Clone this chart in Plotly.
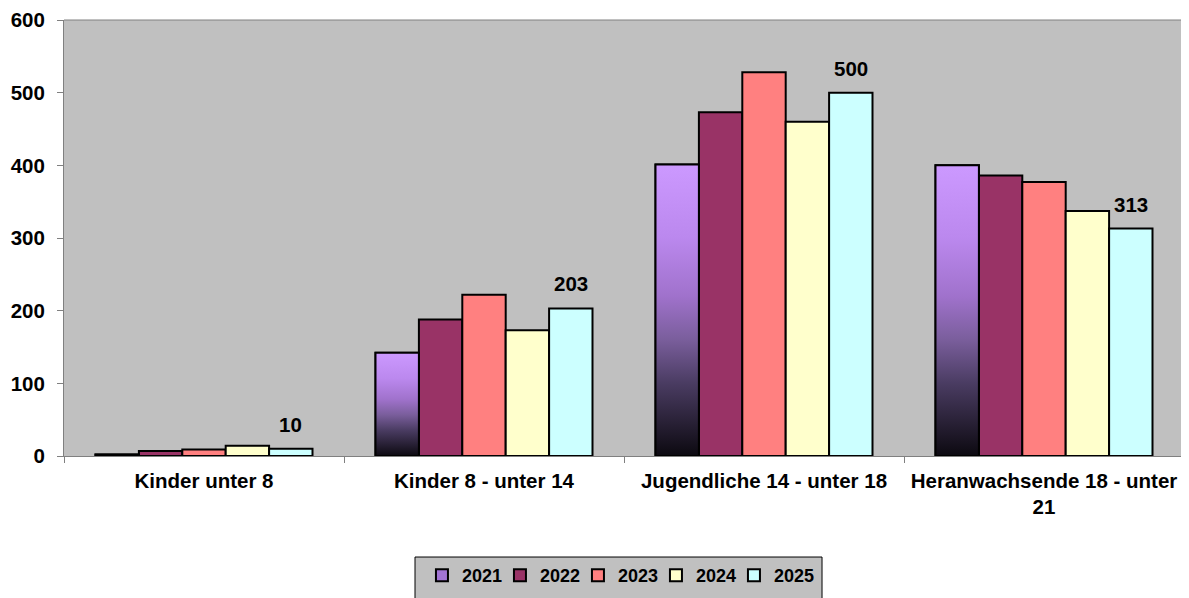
import plotly.graph_objects as go

categories = ["Kinder unter 8", "Kinder 8 - unter 14", "Jugendliche 14 - unter 18", "Heranwachsende 18 - unter<br>21"]
years = ["2021", "2022", "2023", "2024", "2025"]
v2021 = [2, 142, 401, 400]
v2022 = [7, 188, 473, 386]
v2023 = [9, 222, 528, 377]
v2024 = [14, 173, 460, 337]
v2025 = [10, 203, 500, 313]
series = [v2021, v2022, v2023, v2024, v2025]
colors = ["#A274D4", "#993366", "#FF8080", "#FFFFCC", "#CCFFFF"]
label_series_index = 4

FONT = "Liberation Sans, Arial, sans-serif"
FS = 20.5
group_w = 0.775
bar_w = group_w / len(years)

fig = go.Figure()
for k, (yr, vals, col) in enumerate(zip(years, series, colors)):
    off = -group_w / 2 + k * bar_w
    fig.add_trace(go.Bar(
        name=yr, x=categories, y=vals, width=bar_w, offset=off,
        marker=dict(color=col, line=dict(color="black", width=2)),
        hoverinfo="x+y+name",
    ))

# invisible spacer entry so the last legend label is not clipped
fig.add_trace(go.Bar(name=" ", x=[None], y=[None], showlegend=True, hoverinfo="skip",
                     marker=dict(color="rgba(0,0,0,0)", line=dict(width=0))))

# gradient overlay for 2021 bars (black at bottom -> light purple at top)
grad = [[0, "#0c0910"], [0.25, "#4a3c62"], [0.4, "#7a5e9c"], [0.55, "#a072cc"], [0.75, "#bb88ee"], [1, "#cc99ff"]]
off0 = -group_w / 2
for i, v in enumerate(v2021):
    x0 = i + off0
    x1 = x0 + bar_w
    fig.add_trace(go.Scatter(
        x=[x0, x1, x1, x0, x0], y=[0, 0, v, v, 0], xaxis="x2", yaxis="y",
        mode="lines", fill="toself",
        fillgradient=dict(type="vertical", colorscale=grad),
        line=dict(color="black", width=2),
        showlegend=False, hoverinfo="skip",
    ))

# value labels above the 2025 bars
annotations = []
lab_vals = series[label_series_index]
lab_off = -group_w / 2 + label_series_index * bar_w + bar_w / 2
for i, v in enumerate(lab_vals):
    annotations.append(dict(
        x=i + lab_off, y=v, xref="x2", yref="y", text=str(v), showarrow=False,
        yanchor="bottom", xanchor="center", yshift=11,
        font=dict(family=FONT, size=FS, color="black", weight="bold"),
    ))

axis_gray = "#808080"
fig.update_layout(
    width=1181, height=590,
    margin=dict(l=56, r=5, t=12, b=142, autoexpand=False),
    paper_bgcolor="white", plot_bgcolor="#C0C0C0",
    barmode="overlay",
    font=dict(family=FONT, size=FS, color="black"),
    showlegend=True,
    annotations=annotations,
    legend=dict(
        orientation="h", x=0.3196, xanchor="left", y=-0.2317, yanchor="top",
        bgcolor="rgba(0,0,0,0)", borderwidth=0,
        font=dict(family=FONT, size=18, color="black", weight="bold"),
        itemwidth=30, tracegroupgap=0, entrywidth=33, entrywidthmode="pixels",
    ),
    xaxis=dict(
        type="category", tickson="boundaries", ticks="outside", ticklen=6,
        tickcolor=axis_gray, showline=True, linecolor=axis_gray, linewidth=1,
        mirror=False, showgrid=False, automargin=False, ticklabelstandoff=6,
        tickfont=dict(family=FONT, size=FS, color="black", weight="bold"),
        range=[-0.5, 3.5],
    ),
    xaxis2=dict(overlaying="x", range=[-0.5, 3.5], visible=False, showgrid=False),
    yaxis=dict(
        range=[0, 600], dtick=100, ticks="outside", ticklen=6, tickcolor=axis_gray,
        showline=True, linecolor=axis_gray, linewidth=1, showgrid=False, zeroline=False,
        automargin=False, ticklabelstandoff=8,
        tickfont=dict(family=FONT, size=FS, color="black", weight="bold"),
    ),
    shapes=[dict(type="line", xref="paper", yref="paper", x0=0, x1=1, y0=1, y1=1,
                 line=dict(color=axis_gray, width=1)),
            dict(type="line", xref="paper", yref="paper", x0=1, x1=1, y0=0, y1=1,
                 line=dict(color=axis_gray, width=1)),
            # legend frame
            dict(type="rect", xref="paper", yref="paper", x0=0.3134, x1=0.6768,
                 y0=-0.335, y1=-0.2317, fillcolor="#C0C0C0",
                 line=dict(color="black", width=1), layer="below")],
)

fig.write_html("out.html")
